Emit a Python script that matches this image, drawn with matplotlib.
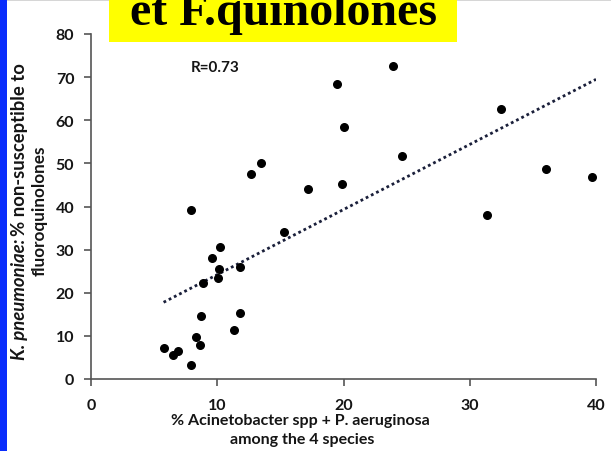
import numpy as np
import matplotlib
matplotlib.use("Agg")
from matplotlib import pyplot as plt
from matplotlib.patches import Rectangle

# % Acinetobacter spp + P. aeruginosa vs % K. pneumoniae non-susceptible
pct_acineto = [19.5, 20.0, 13.5, 12.7, 17.2, 19.9, 7.9, 15.3, 10.2, 9.55,
               10.1, 11.8, 10.05, 8.9, 8.75, 11.8, 11.3, 8.35, 8.6, 5.75,
               6.5, 6.9, 7.9, 23.9, 24.6, 32.5, 31.4, 36.0, 39.7]
pct_kpneu = [68.4, 58.4, 50.0, 47.6, 44.0, 45.3, 39.1, 34.0, 30.5, 28.1,
             25.4, 26.0, 23.4, 22.2, 14.5, 15.3, 11.3, 9.8, 7.8, 7.2,
             5.6, 6.4, 3.2, 72.6, 51.8, 62.7, 38.0, 48.7, 46.9]
r_value = 0.73

x = np.array(pct_acineto)
y = np.array(pct_kpneu)
slope, intercept = np.polyfit(x, y, 1)

W, H = 611, 452
TXT = "#151515"
fig = plt.figure(figsize=(W / 100, H / 100), dpi=100)
fig.patch.set_facecolor("white")

# left blue band and thin top rule of the slide
fig.patches.append(Rectangle((0, 0), 7 / W, 1, transform=fig.transFigure,
                             facecolor="#0a2dfc", edgecolor="none"))
fig.patches.append(Rectangle((7 / W, 1 - 2 / H), 1, 2 / H, transform=fig.transFigure,
                             facecolor="#d6d6d6", edgecolor="none"))
# yellow title box (title runs off the top of the slide)
fig.patches.append(Rectangle((109 / W, 1 - 43 / H), 348 / W, 43 / H,
                             transform=fig.transFigure,
                             facecolor="#ffff00", edgecolor="none"))
fig.text(283 / W, 1 - 25 / H, "et F.quinolones", family="Liberation Serif",
         weight="bold", fontsize=34.5, ha="center", va="baseline", color="black")

ax = fig.add_axes([91 / W, 72 / H, 505 / W, 345 / H])
ax.scatter(x, y, s=30, color="black", zorder=3)

xx = np.array([x.min(), 40])
ax.plot(xx, slope * xx + intercept, color="#1a1f3a", lw=2, ls=(0, (1, 1.1)))

ax.set_xlim(0, 40)
ax.set_ylim(0, 80)
ax.set_xticks(range(0, 41, 10))
ax.set_yticks(range(0, 81, 10))
for s in ("top", "right"):
    ax.spines[s].set_visible(False)
for s in ("left", "bottom"):
    ax.spines[s].set_color("#555555")
    ax.spines[s].set_linewidth(1.2)
ax.tick_params(length=5, width=1.2, color="#555555", labelsize=11.5)
ax.tick_params(axis="y", pad=7)
ax.tick_params(axis="x", pad=8.5)
for lab in ax.get_xticklabels() + ax.get_yticklabels():
    lab.set_family("Lato")
    lab.set_weight("bold")
    lab.set_color(TXT)

ax.text(0.245, 0.905, f"R={r_value}", transform=ax.transAxes, family="Lato",
        weight="bold", fontsize=11, ha="center", va="center", color=TXT)

fig.text(300 / W, 1 - 421 / H, "% Acinetobacter spp + P. aeruginosa", family="Lato",
         weight="bold", fontsize=11.5, ha="center", va="center", color=TXT)
fig.text(302 / W, 1 - 440 / H, "among the 4 species", family="Lato",
         weight="bold", fontsize=11.5, ha="center", va="center", color=TXT)

# y label: italic species name followed by the rest, rotated
t1 = fig.text(20 / W, 1 - 360 / H, "K. pneumoniae:", family="Lato", style="italic",
              weight="bold", fontsize=13.3, rotation=90, ha="center", va="bottom",
              color=TXT)
fig.canvas.draw()
bb = t1.get_window_extent()
fig.text(20 / W, (bb.y1 + 3) / H, "% non-susceptible to", family="Lato",
         weight="bold", fontsize=13.3, rotation=90, ha="center", va="bottom",
         color=TXT)
fig.text(40 / W, 1 - 211 / H, "fluoroquinolones", family="Lato", weight="bold",
         fontsize=12.3, rotation=90, ha="center", va="center", color=TXT)

fig.savefig("out.png", dpi=100)
